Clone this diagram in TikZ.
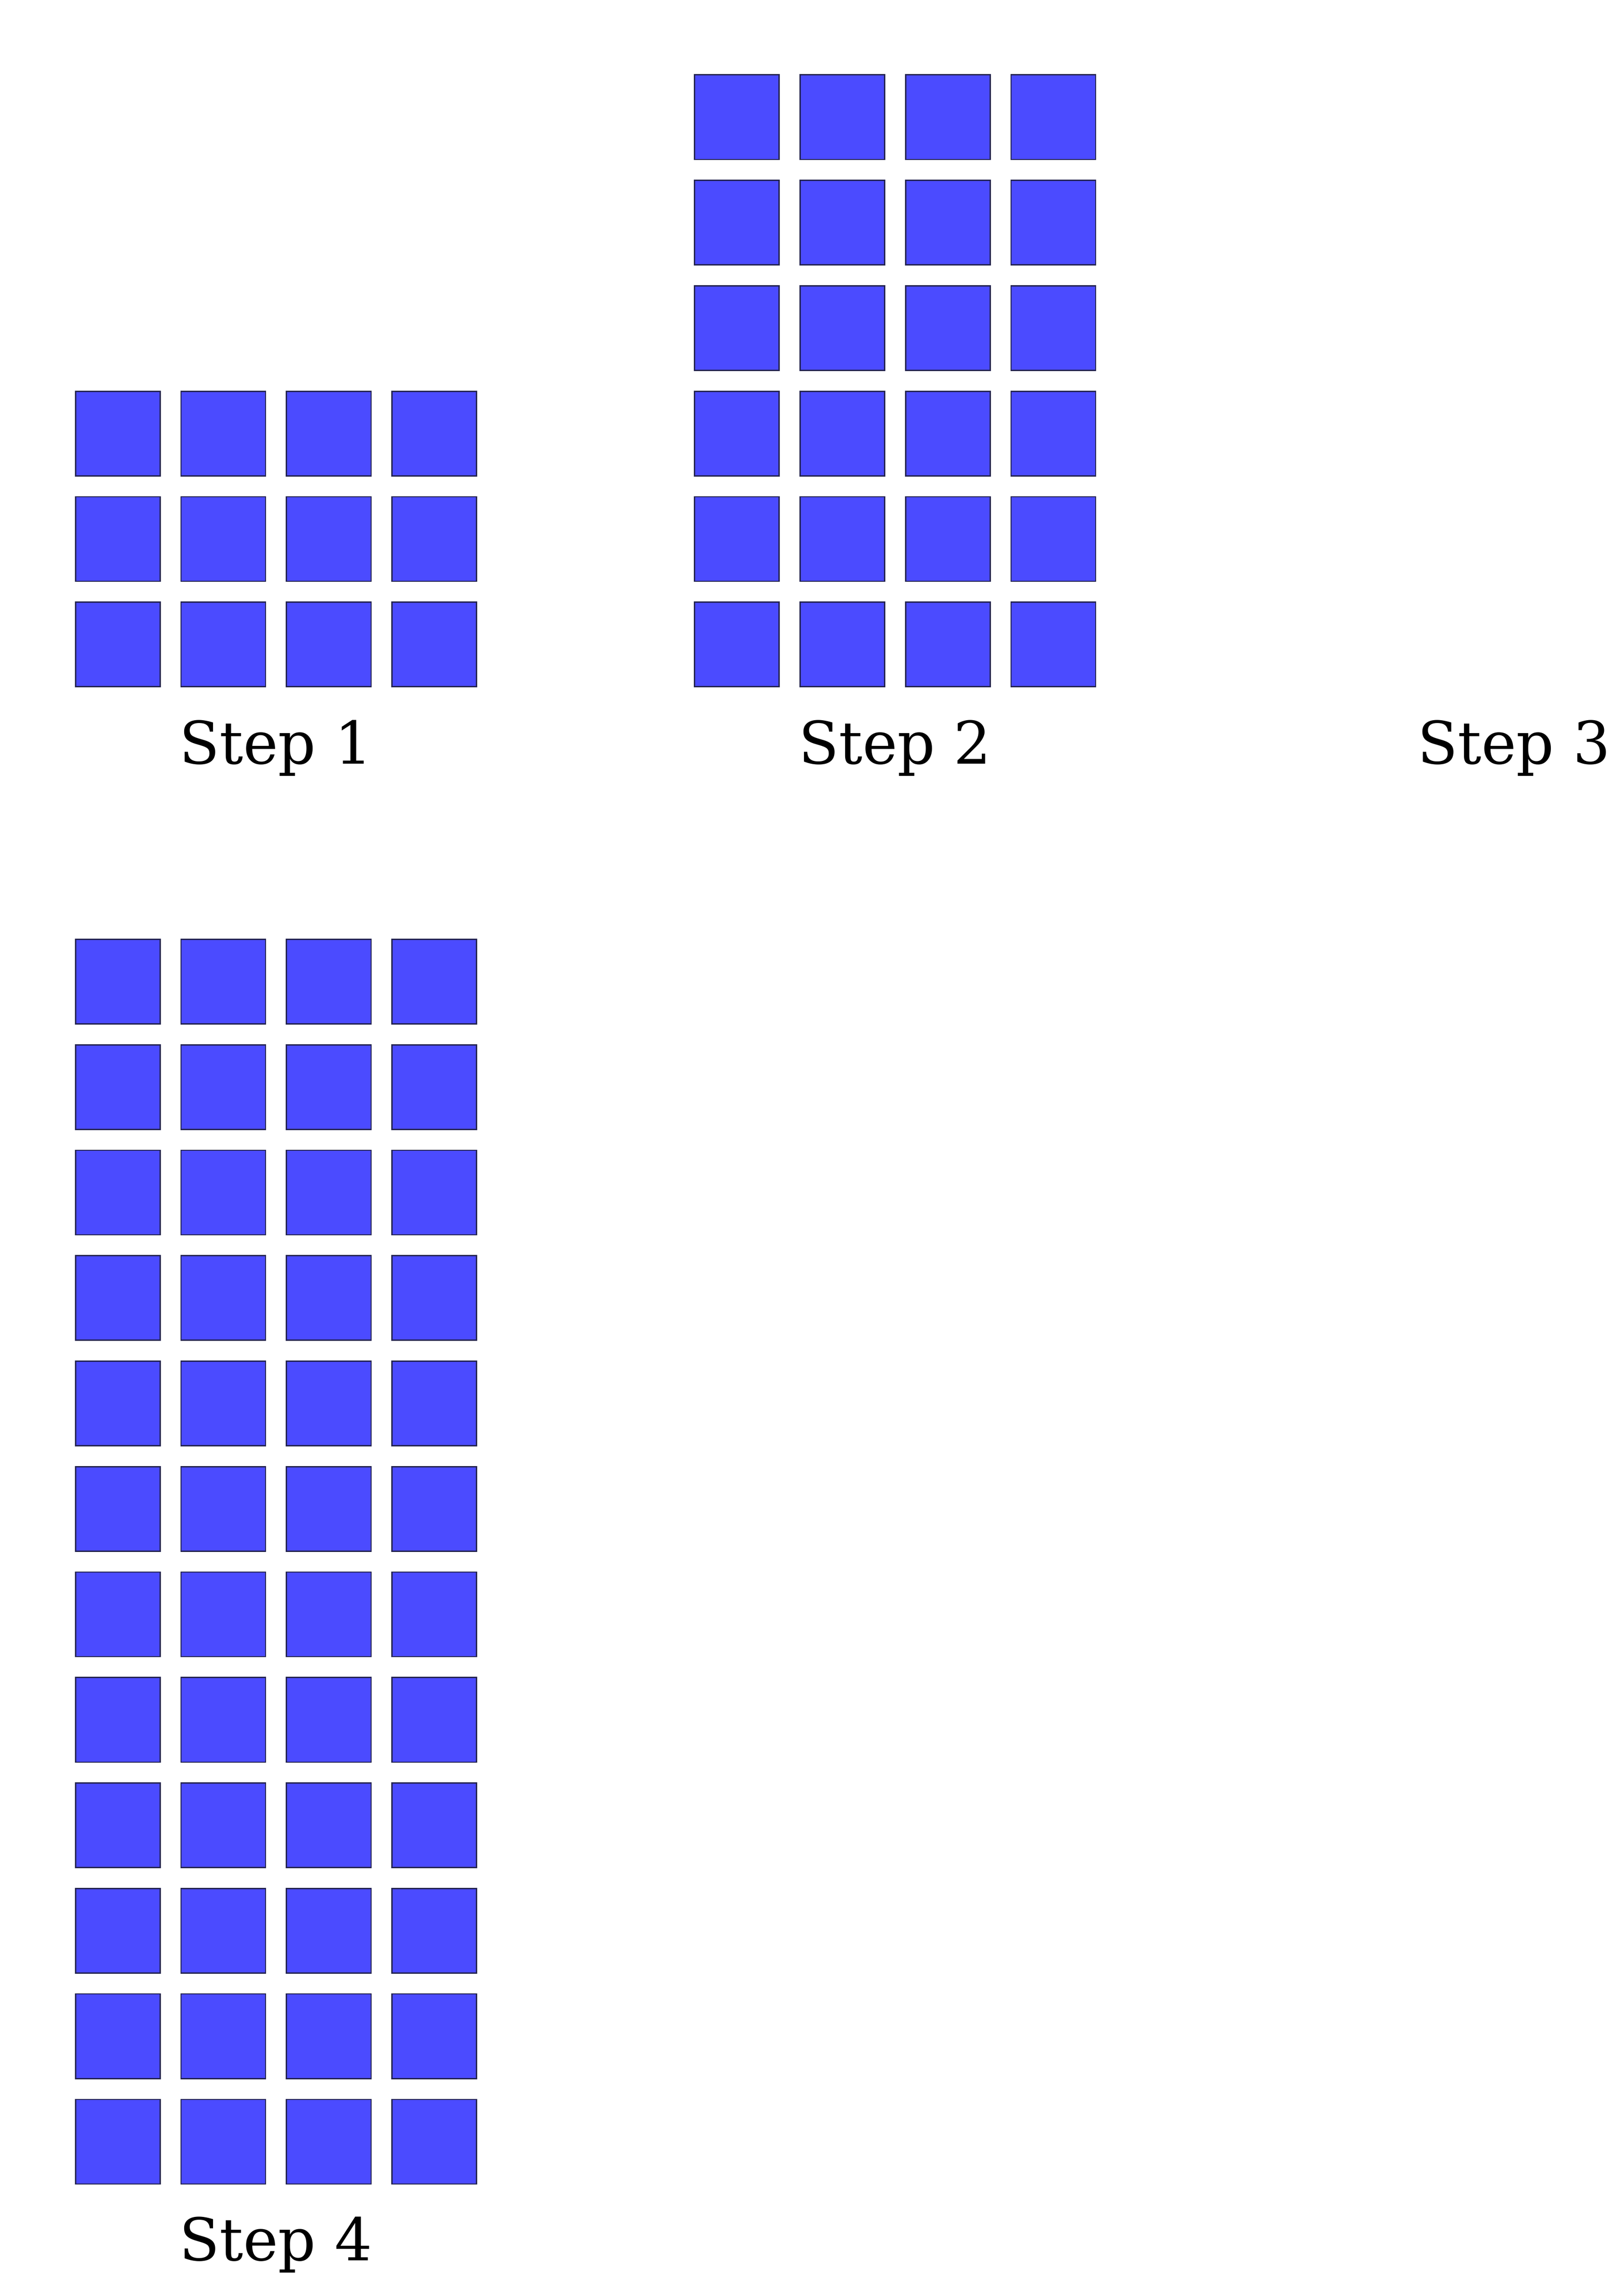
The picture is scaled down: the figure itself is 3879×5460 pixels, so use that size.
\documentclass[tikz,border=0pt]{standalone}
\usepackage{fontspec}
\setmainfont{DejaVu Serif}
\definecolor{cellfill}{HTML}{4B4BFF}
\definecolor{celldraw}{HTML}{23234F}

\begin{document}
\begin{tikzpicture}[x=0.01cm,y=-0.01cm,
		cell/.style={draw=celldraw,fill=cellfill,line width=0.85pt,minimum size=2.02cm,inner sep=0pt},
		steplabel/.style={anchor=base,font=\fontsize{40}{48}\selectfont}]
			\useasboundingbox (0,0) rectangle (3879,5460);

			% Step 1: 3 rows
			\foreach \r in {1,...,3}
				\foreach \c in {1,...,4}
					\node[cell] (sa-\r-\c) at ({281.5+252*(\c-1)},{1540-252*(3-\r)}) {};
			% Step 2: 6 rows
			\foreach \r in {1,...,6}
				\foreach \c in {1,...,4}
					\node[cell] (sb-\r-\c) at ({1760.5+252*(\c-1)},{1540-252*(6-\r)}) {};
			% Step 4: 12 rows
			\foreach \r in {1,...,12}
				\foreach \c in {1,...,4}
					\node[cell] (sd-\r-\c) at ({281.5+252*(\c-1)},{2345.5+252*(\r-1)}) {};

			\node[steplabel] (lab_a) at (659,1825) {Step 1};
			\node[steplabel] (lab_b) at (2138,1825) {Step 2};
			\node[steplabel] (lab_c) at (3617,1825) {Step 3};
			\node[steplabel] (lab_d) at (659,5401) {Step 4};
		\end{tikzpicture}
\end{document}
